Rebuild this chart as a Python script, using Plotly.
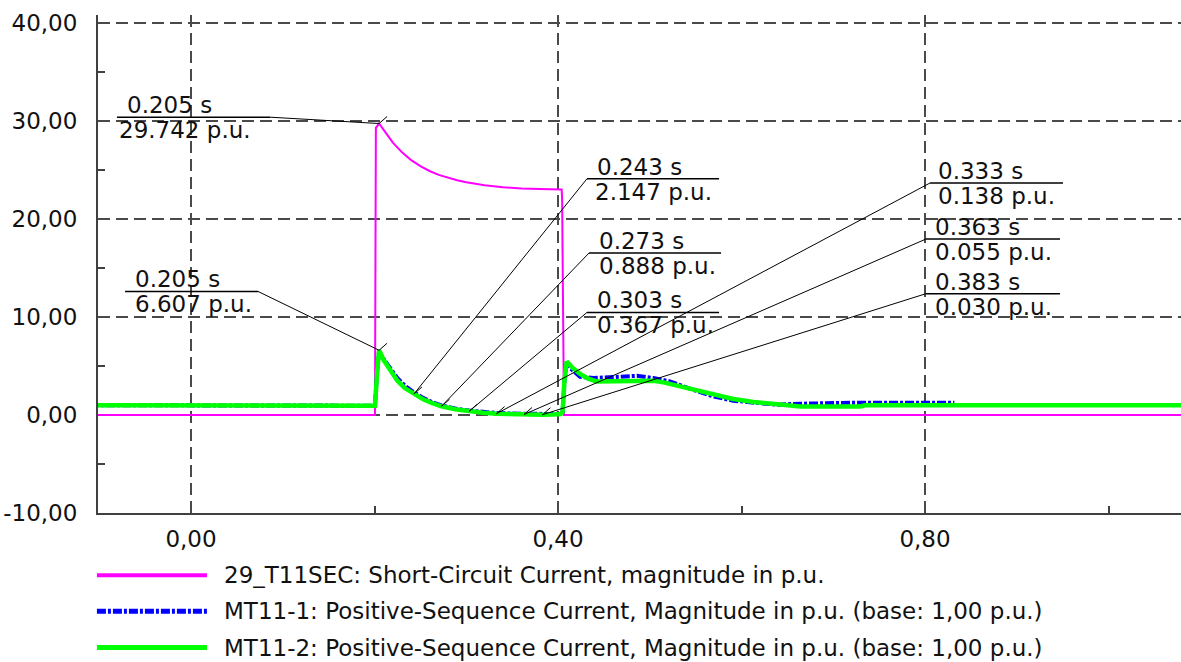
import plotly.graph_objects as go

# --- time axis (s) and simulated quantities (p.u.) ---
t_sc = [-0.11, 0.2005, 0.2015, 0.205, 0.21, 0.215, 0.22, 0.23, 0.24, 0.25, 0.26,
        0.27, 0.28, 0.29, 0.30, 0.32, 0.34, 0.36, 0.38, 0.404, 0.4045, 0.4055,
        0.406, 0.4065, 1.10]
i_sc = [0.0, 0.0, 29.3, 29.742, 29.1, 28.4, 27.8, 26.8, 26.0, 25.4, 24.9,
        24.5, 24.2, 23.95, 23.75, 23.45, 23.25, 23.1, 23.05, 23.0, 22.0, 14.0,
        9.0, 0.0, 0.0]

t_mt1 = [-0.11, 0.2, 0.2005, 0.203, 0.205, 0.21, 0.217, 0.225, 0.233, 0.243,
         0.253, 0.263, 0.273, 0.288, 0.303, 0.318, 0.333, 0.348, 0.363, 0.383,
         0.395, 0.403, 0.405, 0.407, 0.4095, 0.413, 0.424, 0.4386, 0.460, 0.486,
         0.504, 0.522, 0.547, 0.569, 0.591, 0.620, 0.638, 0.664, 0.718, 0.722,
         0.832]
i_mt1 = [1.0, 1.0, 0.95, 4.6, 6.5, 5.7, 4.75, 3.75, 3.0, 2.3,
         1.75, 1.3, 0.98, 0.66, 0.45, 0.3, 0.2, 0.15, 0.12, 0.1,
         0.1, 0.15, 0.3, 3.4, 5.3, 4.8, 3.9, 3.77, 3.88, 4.0,
         3.77, 3.43, 2.58, 1.9, 1.46, 1.15, 1.05, 1.15, 1.22, 1.25,
         1.25]

t_mt2 = [-0.11, 0.2, 0.2005, 0.203, 0.205, 0.21, 0.217, 0.225, 0.233, 0.243,
         0.253, 0.263, 0.273, 0.288, 0.303, 0.318, 0.333, 0.348, 0.363, 0.383,
         0.395, 0.403, 0.405, 0.407, 0.4095, 0.416, 0.424, 0.433, 0.442, 0.475,
         0.504, 0.515, 0.540, 0.566, 0.591, 0.613, 0.638, 0.664, 0.729, 0.735,
         1.10]
i_mt2 = [1.0, 1.0, 0.95, 4.5, 6.607, 5.6, 4.6, 3.5, 2.75, 2.147,
         1.6, 1.2, 0.888, 0.58, 0.367, 0.22, 0.138, 0.085, 0.055, 0.030,
         0.04, 0.1, 0.3, 3.5, 5.47, 4.8, 4.2, 3.7, 3.42, 3.42,
         3.5, 3.33, 2.75, 2.17, 1.63, 1.32, 1.12, 0.88, 0.88, 1.0,
         1.0]

series_names = [
    "29_T11SEC: Short-Circuit Current, magnitude in p.u.",
    "MT11-1: Positive-Sequence Current, Magnitude in p.u. (base: 1,00 p.u.)",
    "MT11-2: Positive-Sequence Current, Magnitude in p.u. (base: 1,00 p.u.)",
]

# --- cursor read-outs (time, value) ---
cur_t = [0.205, 0.205, 0.243, 0.273, 0.303, 0.333, 0.363, 0.383]
cur_v = [29.742, 6.607, 2.147, 0.888, 0.367, 0.138, 0.055, 0.030]

# --- axis ticks ---
x_ticks = [0.0, 0.4, 0.8]
x_ticktext = ["0,00", "0,40", "0,80"]
x_minor = [0.2, 0.6, 1.0]
y_ticks = [-10, 0, 10, 20, 30, 40]
y_ticktext = ["-10,00", "0,00", "10,00", "20,00", "30,00", "40,00"]
y_minor = [-5, 5, 15, 25, 35]

# label box placement (data units): underline start/end, underline height,
# left edge of the upper and lower text, side the leader attaches to
box_x0 = [-0.0807, -0.0719, 0.4316, 0.4338, 0.4316, 0.8054, 0.8011, 0.8011]
box_x1 = [0.0861, 0.0730, 0.5755, 0.5777, 0.5755, 0.9504, 0.9471, 0.9471]
box_y = [30.39, 12.61, 24.11, 16.53, 10.47, 23.67, 17.96, 12.38]
txt_up_x = [-0.0719, -0.0632, 0.4403, 0.4425, 0.4403, 0.8120, 0.8090, 0.8090]
txt_lo_x = [-0.0807, -0.0632, 0.4381, 0.4425, 0.4403, 0.8120, 0.8090, 0.8090]
leader_from_right = [True, True, False, False, False, False, False, False]

FONT = "DejaVu Sans"
INK = "#111111"
GRID = "#4a4a4a"

fig = go.Figure()
fig.add_trace(go.Scatter(x=t_sc, y=i_sc, mode="lines", name=series_names[0],
                         line=dict(color="#ff00ff", width=2)))
fig.add_trace(go.Scatter(x=t_mt1, y=i_mt1, mode="lines", name=series_names[1],
                         line=dict(color="#0000ff", width=4, dash="9px,2px,3px,2px")))
fig.add_trace(go.Scatter(x=t_mt2, y=i_mt2, mode="lines", name=series_names[2],
                         line=dict(color="#00ff00", width=4.5)))

shapes = []
annotations = []
for k in range(len(cur_t)):
    # underline of the read-out box
    shapes.append(dict(type="line", xref="x", yref="y", x0=box_x0[k], x1=box_x1[k],
                       y0=box_y[k], y1=box_y[k], line=dict(color="#000000", width=1.5)))
    # leader from the box to the cursor point
    lx = box_x1[k] if leader_from_right[k] else box_x0[k]
    shapes.append(dict(type="line", xref="x", yref="y", x0=lx, x1=cur_t[k],
                       y0=box_y[k], y1=cur_v[k], line=dict(color="#000000", width=1)))
    # small cursor tick at the point
    shapes.append(dict(type="line", xref="x", yref="y", xsizemode="pixel",
                       ysizemode="pixel", xanchor=cur_t[k], yanchor=cur_v[k],
                       x0=0, x1=8, y0=0, y1=7, line=dict(color="#000000", width=1)))
    annotations.append(dict(x=txt_up_x[k], y=box_y[k], xref="x", yref="y",
                            text=f"{cur_t[k]:.3f} s", showarrow=False,
                            xanchor="left", yanchor="middle", yshift=12,
                            font=dict(family=FONT, size=23, color=INK)))
    annotations.append(dict(x=txt_lo_x[k], y=box_y[k], xref="x", yref="y",
                            text=f"{cur_v[k]:.3f} p.u.", showarrow=False,
                            xanchor="left", yanchor="middle", yshift=-13,
                            font=dict(family=FONT, size=23, color=INK)))

# legend drawn below the plot area
leg_colors = ["#ff00ff", "#0000ff", "#00ff00"]
leg_widths = [4, 5, 5]
leg_dash = ["solid", "9px,2px,3px,2px", "solid"]
leg_y = [-0.1252, -0.1975, -0.2703]
for k in range(3):
    shapes.append(dict(type="line", xref="paper", yref="paper", x0=-0.001, x1=0.1006,
                       y0=leg_y[k], y1=leg_y[k],
                       line=dict(color=leg_colors[k], width=leg_widths[k], dash=leg_dash[k])))
    annotations.append(dict(x=0.1142, y=leg_y[k], xref="paper", yref="paper",
                            text=series_names[k], showarrow=False,
                            xanchor="left", yanchor="middle",
                            font=dict(family=FONT, size=23, color=INK)))

fig.update_layout(
    width=1181, height=662,
    margin=dict(l=98, r=0, t=15, b=149, autoexpand=False),
    paper_bgcolor="white", plot_bgcolor="white",
    showlegend=False,
    shapes=shapes, annotations=annotations,
    font=dict(family=FONT, size=23, color=INK),
)
fig.update_xaxes(
    range=[-0.10136, 1.0790], tickmode="array", tickvals=x_ticks, ticktext=x_ticktext,
    ticks="", showgrid=True, gridcolor=GRID, gridwidth=1.5, griddash="12px,6px",
    zeroline=False, showline=True, linecolor="#404040", linewidth=2,
    minor=dict(tickmode="array", tickvals=x_minor, ticks="inside", ticklen=7,
               tickcolor="#404040", tickwidth=1.5, showgrid=False),
    tickfont=dict(family=FONT, size=23, color=INK), ticklabelstandoff=4,
    automargin=False,
)
fig.update_yaxes(
    range=[-10, 40.816], tickmode="array", tickvals=y_ticks, ticktext=y_ticktext,
    ticks="", showgrid=True, gridcolor=GRID, gridwidth=1.5, griddash="12px,6px",
    zeroline=False, showline=True, linecolor="#404040", linewidth=2,
    minor=dict(tickmode="array", tickvals=y_minor, ticks="inside", ticklen=7,
               tickcolor="#404040", tickwidth=1.5, showgrid=False),
    tickfont=dict(family=FONT, size=23, color=INK), ticklabelstandoff=14,
    automargin=False,
)

fig.write_html("out.html")
